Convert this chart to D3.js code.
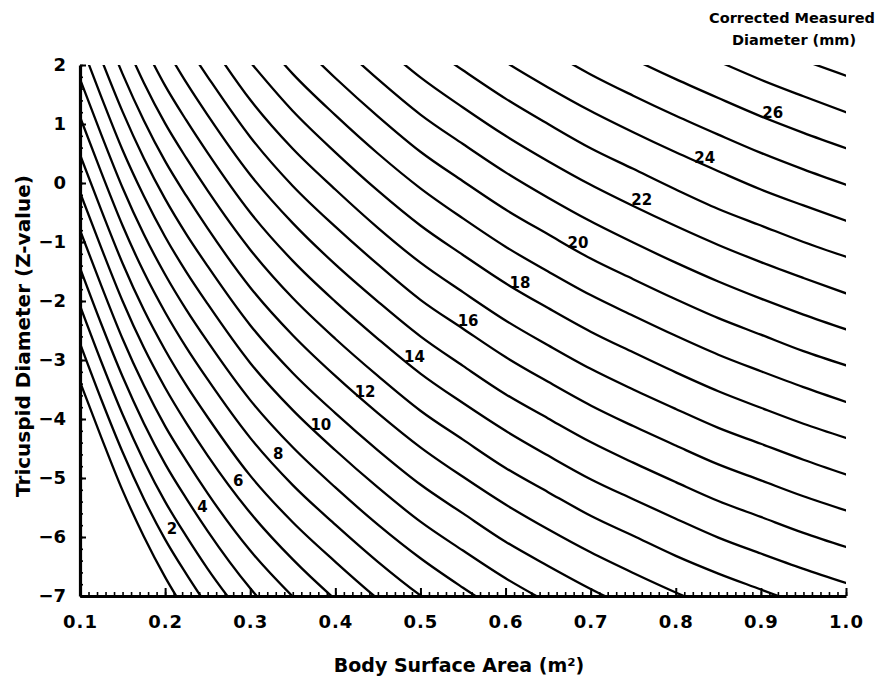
<!DOCTYPE html>
<html>
<head>
<meta charset="utf-8">
<script src="https://cdn.jsdelivr.net/npm/d3@7"></script>
<style>
  body { margin: 0; background: #fff; }
  svg { display: block; }
</style>
</head>
<body>
<div id="chart"></div>
<script>
var svgWidth = 882;
var svgHeight = 680;

var margin = {
  top: 65,
  right: 36,
  bottom: 84,
  left: 80
};

var width = svgWidth - margin.left - margin.right;
var height = svgHeight - margin.top - margin.bottom;

var fontFamily = "'DejaVu Sans', 'Open Sans', sans-serif";

// body surface area (m2) where each diameter line was read
var bsaGrid = [0.1, 0.125, 0.15, 0.175, 0.2, 0.225, 0.25, 0.3, 0.35, 0.4, 0.45,
  0.5, 0.55, 0.6, 0.65, 0.7, 0.75, 0.8, 0.85, 0.9, 0.95, 1.0];

// corrected measured diameter (mm), one line each
var diameters = [1, 2, 3, 4, 5, 6, 7, 8, 9, 10, 11, 12, 13, 14,
  15, 16, 17, 18, 19, 20, 21, 22, 23, 24, 25, 26, 27, 28];

// Z-value of each diameter line at the bsaGrid points (null = not read)
var zValues = [
  [-3.37, -4.31, -5.21, -5.99, -6.68, -7.28, null, null, null, null, null, null, null, null, null, null, null, null, null, null, null, null],
  [-2.72, -3.67, -4.56, -5.35, -6.04, -6.63, -7.18, null, null, null, null, null, null, null, null, null, null, null, null, null, null, null],
  [-2.08, -3.03, -3.92, -4.71, -5.40, -5.99, -6.54, -7.50, null, null, null, null, null, null, null, null, null, null, null, null, null, null],
  [-1.44, -2.39, -3.28, -4.07, -4.76, -5.35, -5.90, -6.87, -7.65, null, null, null, null, null, null, null, null, null, null, null, null, null],
  [-0.80, -1.74, -2.64, -3.43, -4.12, -4.71, -5.26, -6.23, -7.01, -7.69, null, null, null, null, null, null, null, null, null, null, null, null],
  [-0.16, -1.10, -2.00, -2.79, -3.47, -4.07, -4.62, -5.59, -6.38, -7.06, -7.67, null, null, null, null, null, null, null, null, null, null, null],
  [0.48, -0.46, -1.36, -2.15, -2.83, -3.43, -3.97, -4.96, -5.75, -6.42, -7.05, -7.62, null, null, null, null, null, null, null, null, null, null],
  [1.12, 0.18, -0.72, -1.51, -2.19, -2.79, -3.33, -4.32, -5.12, -5.79, -6.42, -6.99, -7.48, null, null, null, null, null, null, null, null, null],
  [1.76, 0.82, -0.08, -0.87, -1.55, -2.15, -2.69, -3.68, -4.48, -5.16, -5.79, -6.36, -6.86, -7.33, null, null, null, null, null, null, null, null],
  [2.40, 1.46, 0.56, -0.22, -0.91, -1.51, -2.05, -3.05, -3.85, -4.53, -5.16, -5.74, -6.23, -6.70, -7.11, null, null, null, null, null, null, null],
  [null, 2.10, 1.21, 0.42, -0.27, -0.87, -1.41, -2.41, -3.22, -3.90, -4.53, -5.11, -5.60, -6.08, -6.49, -6.88, -7.23, null, null, null, null, null],
  [null, 2.74, 1.85, 1.06, 0.37, -0.22, -0.77, -1.77, -2.58, -3.27, -3.90, -4.48, -4.98, -5.45, -5.87, -6.26, -6.61, -6.94, -7.24, null, null, null],
  [null, null, 2.49, 1.70, 1.01, 0.42, -0.13, -1.13, -1.95, -2.64, -3.27, -3.86, -4.35, -4.83, -5.24, -5.64, -5.98, -6.32, -6.62, -6.89, -7.16, null],
  [null, null, null, 2.34, 1.65, 1.06, 0.51, -0.50, -1.32, -2.01, -2.64, -3.23, -3.73, -4.20, -4.62, -5.02, -5.36, -5.69, -6.01, -6.28, -6.54, -6.78],
  [null, null, null, null, 2.30, 1.70, 1.15, 0.14, -0.68, -1.38, -2.01, -2.60, -3.10, -3.58, -3.99, -4.39, -4.74, -5.07, -5.39, -5.66, -5.93, -6.17],
  [null, null, null, null, null, 2.34, 1.80, 0.78, -0.05, -0.74, -1.38, -1.98, -2.47, -2.95, -3.37, -3.77, -4.12, -4.45, -4.77, -5.04, -5.31, -5.55],
  [null, null, null, null, null, null, 2.44, 1.41, 0.58, -0.11, -0.76, -1.35, -1.85, -2.33, -2.75, -3.15, -3.50, -3.83, -4.15, -4.42, -4.69, -4.94],
  [null, null, null, null, null, null, null, 2.05, 1.22, 0.52, -0.13, -0.72, -1.22, -1.70, -2.12, -2.52, -2.87, -3.21, -3.53, -3.81, -4.08, -4.32],
  [null, null, null, null, null, null, null, 2.69, 1.85, 1.15, 0.50, -0.09, -0.60, -1.08, -1.50, -1.90, -2.25, -2.59, -2.91, -3.19, -3.46, -3.71],
  [null, null, null, null, null, null, null, null, 2.48, 1.78, 1.13, 0.53, 0.03, -0.45, -0.87, -1.28, -1.63, -1.97, -2.29, -2.57, -2.85, -3.09],
  [null, null, null, null, null, null, null, null, null, 2.41, 1.76, 1.16, 0.66, 0.18, -0.25, -0.65, -1.01, -1.35, -1.67, -1.96, -2.23, -2.48],
  [null, null, null, null, null, null, null, null, null, null, 2.39, 1.79, 1.28, 0.80, 0.37, -0.03, -0.39, -0.73, -1.05, -1.34, -1.61, -1.87],
  [null, null, null, null, null, null, null, null, null, null, null, 2.41, 1.91, 1.43, 1.00, 0.59, 0.24, -0.11, -0.44, -0.72, -1.00, -1.25],
  [null, null, null, null, null, null, null, null, null, null, null, null, 2.54, 2.05, 1.62, 1.22, 0.86, 0.52, 0.20, -0.11, -0.38, -0.64],
  [null, null, null, null, null, null, null, null, null, null, null, null, null, 2.68, 2.25, 1.84, 1.48, 1.14, 0.82, 0.51, 0.23, -0.03],
  [null, null, null, null, null, null, null, null, null, null, null, null, null, null, null, 2.46, 2.10, 1.76, 1.44, 1.13, 0.85, 0.59],
  [null, null, null, null, null, null, null, null, null, null, null, null, null, null, null, null, null, 2.38, 2.06, 1.75, 1.47, 1.20],
  [null, null, null, null, null, null, null, null, null, null, null, null, null, null, null, null, null, null, null, 2.36, 2.08, 1.82]
];

// where the diameter numbers are printed on the lines
var labelDiameters = [2, 4, 6, 8, 10, 12, 14, 16, 18, 20, 22, 24, 26];
var labelBsa = [0.208, 0.244, 0.286, 0.333, 0.383, 0.435, 0.493, 0.556, 0.617, 0.685, 0.760, 0.834, 0.914];
var labelZ = [-5.86, -5.49, -5.05, -4.59, -4.10, -3.53, -2.95, -2.34, -1.69, -1.02, -0.29, 0.42, 1.19];

// tick labels
var xTickValues = [0.1, 0.2, 0.3, 0.4, 0.5, 0.6, 0.7, 0.8, 0.9, 1.0];
var yTickValues = [-7, -6, -5, -4, -3, -2, -1, 0, 1, 2];

var svg = d3
  .select("#chart")
  .append("svg")
  .attr("width", svgWidth)
  .attr("height", svgHeight);

var chartGroup = svg.append("g")
  .attr("transform", `translate(${margin.left}, ${margin.top})`);

var xLinearScale = d3.scaleLinear()
  .domain([0.1, 1.0])
  .range([0, width]);

var yLinearScale = d3.scaleLinear()
  .domain([-7, 2])
  .range([height, 0]);

// lines are cut at the frame
chartGroup.append("clipPath")
  .attr("id", "plotClip")
  .append("rect")
  .attr("x", 0)
  .attr("y", 0)
  .attr("width", width)
  .attr("height", height);

var lineGen = d3.line()
  .x(d => xLinearScale(d[0]))
  .y(d => yLinearScale(d[1]))
  .curve(d3.curveMonotoneX);

var lineData = diameters.map(function(dia, i) {
  return bsaGrid
    .map((b, j) => [b, zValues[i][j]])
    .filter(p => p[1] !== null);
});

chartGroup.append("g")
  .attr("clip-path", "url(#plotClip)")
  .selectAll("path")
  .data(lineData)
  .enter()
  .append("path")
  .attr("d", lineGen)
  .attr("fill", "none")
  .attr("stroke", "#000")
  .attr("stroke-width", 2.3)
  .attr("stroke-linecap", "round");

// diameter labels on the lines
chartGroup.selectAll(".diaLabel")
  .data(labelDiameters)
  .enter()
  .append("text")
  .attr("class", "diaLabel")
  .attr("x", (d, i) => xLinearScale(labelBsa[i]))
  .attr("y", (d, i) => yLinearScale(labelZ[i]))
  .attr("dy", "0.35em")
  .attr("text-anchor", "middle")
  .attr("font-family", fontFamily)
  .attr("font-weight", "bold")
  .attr("font-size", 15)
  .text(d => d);

// minor ticks first, then major ticks with labels
var xMinor = d3.axisBottom(xLinearScale)
  .tickValues(d3.range(10, 101).map(d => d / 100))
  .tickSize(-4)
  .tickSizeOuter(0)
  .tickFormat("");

var xMajor = d3.axisBottom(xLinearScale)
  .tickValues(xTickValues)
  .tickSize(-8)
  .tickSizeOuter(0)
  .tickPadding(19)
  .tickFormat(d3.format(".1f"));

var yMinor = d3.axisLeft(yLinearScale)
  .tickValues(d3.range(-35, 11).map(d => d / 5))
  .tickSize(-3)
  .tickSizeOuter(0)
  .tickFormat("");

var yMajor = d3.axisLeft(yLinearScale)
  .tickValues(yTickValues)
  .tickSize(-6)
  .tickSizeOuter(0)
  .tickPadding(14)
  .tickFormat(d3.format("d"));

var xMinorG = chartGroup.append("g")
  .attr("transform", `translate(0, ${height})`)
  .call(xMinor);

var xAxis = chartGroup.append("g")
  .attr("transform", `translate(0, ${height})`)
  .call(xMajor);

var yMinorG = chartGroup.append("g")
  .call(yMinor);

var yAxis = chartGroup.append("g")
  .call(yMajor);

[xMinorG, yMinorG].forEach(function(g) {
  g.select(".domain").remove();
  g.selectAll(".tick line").attr("stroke-width", 1.6);
});

[xAxis, yAxis].forEach(function(g) {
  g.select(".domain").attr("stroke-width", 3.2);
  g.selectAll(".tick line").attr("stroke-width", 2);
  g.selectAll(".tick text")
    .attr("fill", "#000")
    .attr("font-family", fontFamily)
    .attr("font-weight", "bold")
    .attr("font-size", 18);
});

xAxis.selectAll(".tick text").attr("letter-spacing", 1);

// axis titles
svg.append("text")
  .attr("x", 459)
  .attr("y", 672)
  .attr("text-anchor", "middle")
  .attr("font-family", fontFamily)
  .attr("font-weight", "bold")
  .attr("font-size", 19)
  .text("Body Surface Area (m²)");

svg.append("text")
  .attr("transform", "translate(30, 336) rotate(-90)")
  .attr("text-anchor", "middle")
  .attr("font-family", fontFamily)
  .attr("font-weight", "bold")
  .attr("font-size", 20)
  .text("Tricuspid Diameter (Z-value)");

// key for the lines, top right
var keyTitle = svg.append("text")
  .attr("text-anchor", "middle")
  .attr("font-family", fontFamily)
  .attr("font-weight", "bold")
  .attr("font-size", 14.5);

keyTitle.append("tspan")
  .attr("x", 792)
  .attr("y", 23)
  .text("Corrected Measured");

keyTitle.append("tspan")
  .attr("x", 794)
  .attr("y", 45)
  .text("Diameter (mm)");
</script>
</body>
</html>
